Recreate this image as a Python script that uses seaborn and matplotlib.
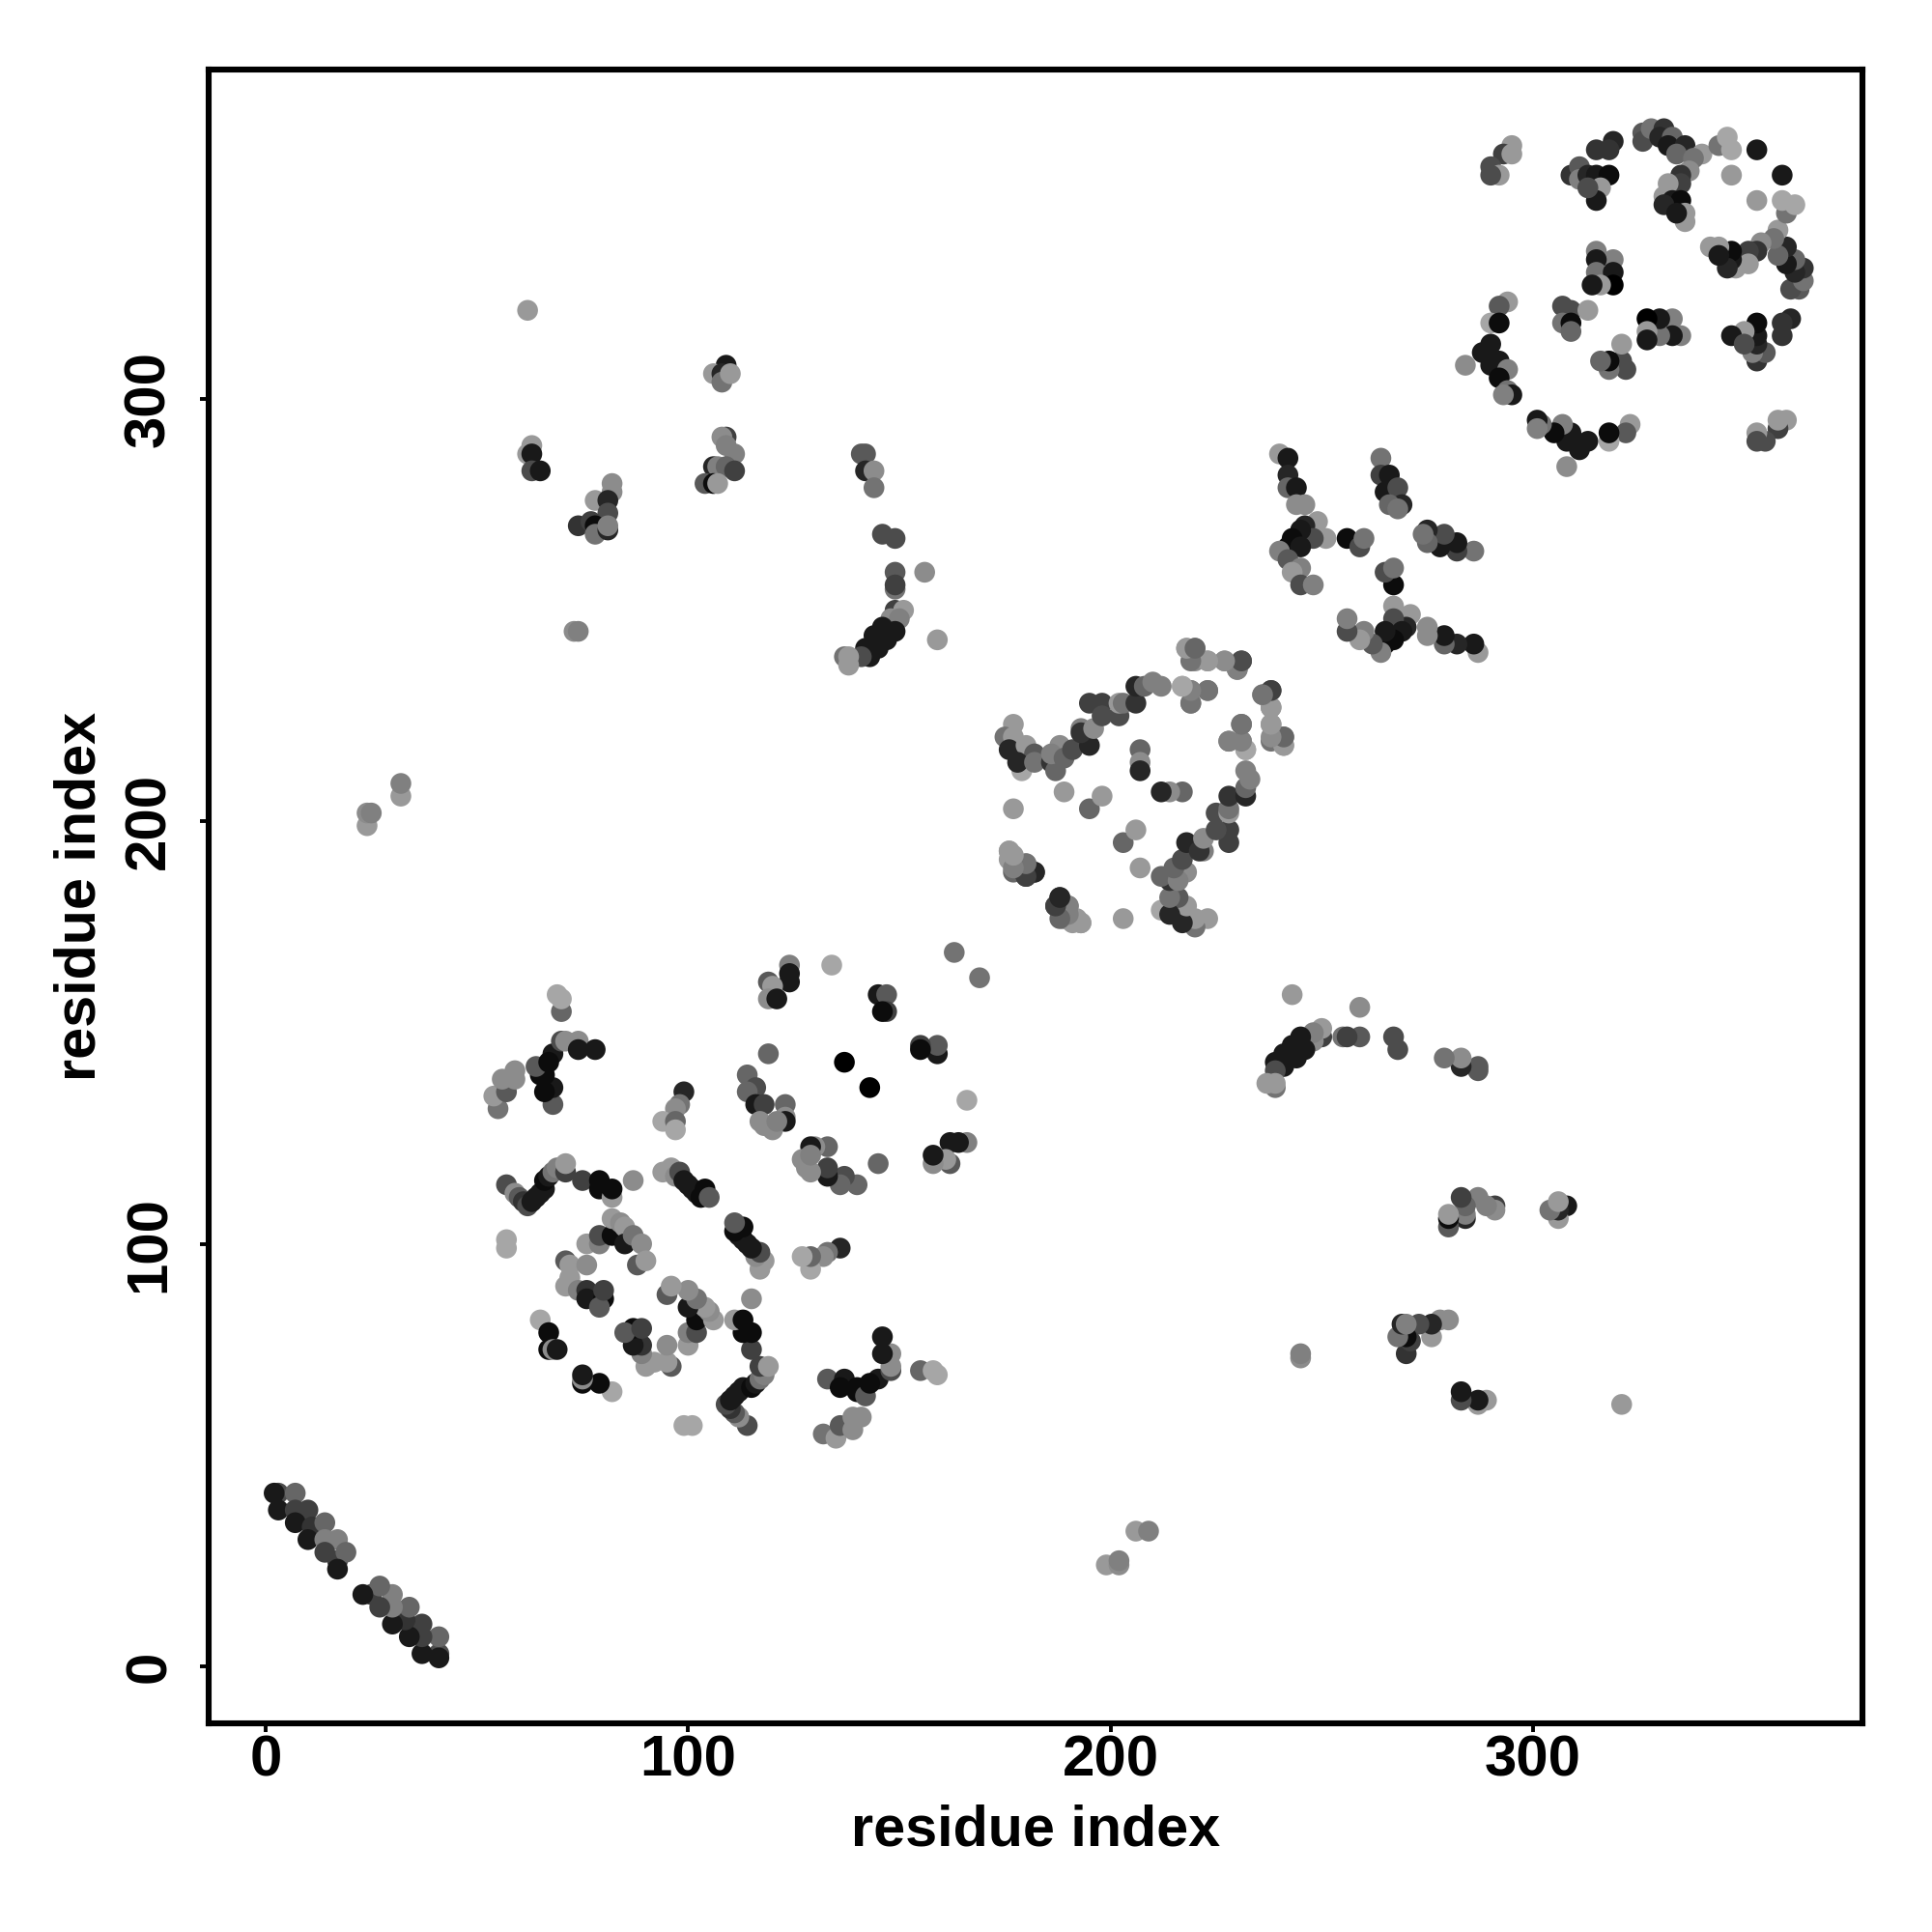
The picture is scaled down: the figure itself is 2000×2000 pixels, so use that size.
import pandas as pd
import matplotlib
matplotlib.use('Agg')
import matplotlib.pyplot as plt
import seaborn as sns

# Contacts as (i, j, grey level), upper triangle only.
# The map is symmetric, so the mirrored half is added below.
strand_start = [(3, 41, .3), (2, 41, .1), (7, 41, .4), (3, 37, .1), (7, 37, .25), (10, 37, .25),
                (7, 34, .1), (11, 33, .2), (14, 34, .4), (10, 30, .1), (14, 30, .5), (17, 30, .5),
                (14, 27, .25), (17, 25, .25), (19, 27, .4), (17, 23, .1)]

block_a_left = [(57, 114, .3), (59, 112, .55), (60, 111, .35), (61, 110, .2), (62, 109, .3), (63, 110, .1),
                (64, 111, .1), (65, 112, .1), (66, 113, .1), (66, 115, .05), (67, 116, .1), (68, 117, .45),
                (69, 118, .5), (71, 117, .25), (71, 119, .6), (75, 115, .25), (79, 115, .05), (79, 113, .05),
                (82, 111, .6), (82, 113, .05), (87, 115, .55)]

block_a_turn = [(94, 117, .6), (96, 118, .6), (97, 116, .55), (98, 117, .3), (99, 115, .1), (100, 114, .1),
                (101, 113, .1), (102, 112, .1), (103, 111, .05), (104, 113, .05), (105, 111, .35)]

block_a_inner = [(76, 100, .6), (79, 100, .5), (79, 102, .3), (82, 102, .05), (82, 106, .6), (84, 105, .55),
                 (85, 104, .6), (85, 100, .1), (87, 102, .45), (89, 100, .55), (88, 95, .35), (90, 96, .6),
                 (57, 99, .65), (57, 101, .65), (71, 96, .35), (72, 95, .6), (76, 95, .55), (72, 92, .6),
                 (71, 90, .6), (74, 89, .5), (76, 89, .2), (76, 87, .1), (80, 87, .05), (79, 85, .35),
                 (80, 89, .25), (65, 82, .65), (67, 79, .05), (67, 75, .05), (68, 75, .55), (69, 75, .1)]

block_a_far = [(68, 133, .35), (68, 137, .1), (66, 136, .05), (65, 140, .05), (66, 140, .05), (64, 142, .35),
               (68, 145, .1), (67, 143, .05), (70, 148, .3), (71, 148, .55), (74, 148, .55), (74, 146, .1),
               (78, 146, .1), (55, 132, .45), (54, 135, .6), (57, 136, .35), (56, 139, .55), (59, 139, .55),
               (59, 141, .55), (70, 155, .4), (70, 158, .65), (69, 159, .65), (99, 136, .15), (98, 133, .45),
               (97, 132, .55), (94, 129, .65), (97, 129, .4), (97, 127, .65)]

block_b = [(114, 140, .4), (116, 137, .3), (114, 136, .4), (116, 133, .1), (118, 133, .25), (123, 133, .4),
           (123, 130, .55), (123, 129, .1), (117, 129, .55), (120, 127, .55), (118, 128, .55), (121, 129, .5),
           (119, 145, .4), (124, 166, .5), (124, 164, .1), (124, 162, .1), (119, 162, .35), (120, 161, .6),
           (119, 158, .55), (121, 158, .1), (134, 166, .65), (145, 159, .1), (147, 159, .35), (147, 155, .25),
           (146, 155, .05), (163, 169, .45), (137, 143, 0)]

block_c_upper = [(177, 223, .6), (175, 220, .45), (177, 220, .6), (176, 217, .15), (180, 218, .6), (182, 216, .35),
                 (179, 212, .65), (178, 214, .15), (182, 214, .45), (186, 214, .2), (187, 212, .4), (188, 218, .55),
                 (186, 216, .5), (189, 215, .4), (191, 217, .3), (193, 222, .5), (195, 218, .15), (193, 221, .2),
                 (196, 222, .55), (195, 228, .25), (198, 228, .25), (198, 225, .3), (202, 225, .3), (202, 228, .6),
                 (203, 228, .45), (206, 228, .2), (206, 232, .15), (208, 232, .4), (210, 233, .5), (212, 232, .5)]

block_c_top = [(218, 241, .6), (220, 241, .4), (220, 238, .55), (223, 238, .6), (227, 238, .6), (231, 238, .25),
               (230, 236, .45), (217, 232, .65), (219, 231, .5), (223, 231, .45), (219, 228, .5), (236, 230, .5),
               (238, 231, .3), (238, 227, .55), (238, 223, .6), (238, 219, .45), (241, 218, .6), (241, 220, .4),
               (231, 223, .45), (228, 219, .45), (231, 219, .5), (232, 217, .65)]

block_c_inner = [(207, 217, .4), (207, 214, .55), (207, 212, .15), (189, 207, .6), (195, 203, .4), (198, 206, .6),
                 (177, 203, .6), (176, 193, .6), (176, 191, .6), (178, 190, .5), (180, 190, .5), (177, 188, .4),
                 (180, 187, .25), (182, 188, .15), (188, 182, .15), (187, 180, .25), (190, 180, .45), (189, 177, .5),
                 (192, 177, .6), (193, 176, .6)]

block_d = [(240, 287, .6), (242, 286, .1), (242, 282, .15), (242, 279, .4), (244, 279, .1), (244, 275, .55),
           (246, 275, .55), (249, 271, .6), (246, 270, .15), (251, 267, .6), (248, 267, .3), (245, 269, .1),
           (243, 267, .05), (242, 265, .05), (240, 264, .5), (245, 265, .1), (242, 262, .35), (245, 260, .5),
           (243, 259, .6), (245, 256, .3), (248, 256, .5), (256, 267, .05), (259, 265, .3), (260, 267, .45),
           (264, 286, .45), (264, 282, .25), (266, 282, .1), (265, 278, .1), (268, 279, .3), (269, 275, .15),
           (266, 275, .4), (268, 274, .45)]

block_e_corner = [(295, 360, .6), (293, 358, .25), (295, 358, .6), (290, 355, .3), (292, 353, .6), (290, 353, .3),
                  (319, 361, .15), (315, 359, .2), (318, 359, .2), (309, 353, .2), (311, 355, .35), (311, 352, .5),
                  (313, 353, .15), (315, 353, .1), (318, 353, .05), (316, 350, .6), (315, 347, .1), (313, 350, .3)]

block_e_top = [(326, 363, .35), (326, 361, .3), (328, 364, .45), (331, 364, .2), (330, 362, .15), (333, 362, .4),
               (332, 360, .1), (336, 360, .15), (334, 358, .4), (340, 358, .6), (338, 357, .45), (337, 354, .55),
               (335, 353, .2), (335, 351, .25), (332, 351, .6), (331, 348, .6), (333, 347, .1), (335, 347, .05),
               (336, 344, .6), (336, 342, .6), (331, 346, .15), (334, 344, .1), (344, 360, .45), (346, 362, .65),
               (347, 359, .65), (353, 359, .1), (347, 353, .6)]

block_e_inner = [(315, 335, .5), (319, 333, .5), (315, 333, .1), (315, 330, .45), (319, 330, .1), (319, 327, 0),
                 (316, 327, .6), (314, 327, .1), (294, 323, .6), (292, 322, .35), (290, 318, .65), (292, 318, .05),
                 (307, 322, .3), (309, 321, .3), (313, 321, .6), (307, 318, .45), (309, 318, .05), (309, 316, .4),
                 (290, 313, .1), (288, 311, .1), (290, 308, .1), (284, 308, .55), (292, 309, .1), (294, 307, .5),
                 (292, 305, .05), (294, 302, .45), (295, 301, .1), (293, 301, .5)]

long_range = [(62, 321, .6), (109, 308, .1), (106, 306, .6), (108, 306, .15), (108, 304, .45), (110, 306, .6),
              (63, 289, .6), (62, 287, .6), (63, 287, .1), (63, 283, .3), (65, 283, .1),
              (82, 280, .55), (82, 278, .55), (78, 276, .6), (81, 276, .15), (81, 273, .3), (74, 270, .2),
              (77, 271, .25), (78, 270, .05), (78, 268, .45), (81, 269, .15), (81, 270, .5),
              (109, 291, .25), (108, 291, .55), (109, 289, .5), (111, 287, .5), (106, 284, .15), (107, 284, .5),
              (109, 284, .4), (111, 283, .25), (104, 280, .35), (106, 280, .05), (107, 280, .6),
              (141, 287, .35), (142, 287, .35), (142, 283, .15), (144, 283, .55), (144, 279, .45),
              (146, 268, .3), (149, 267, .3), (149, 259, .35), (156, 259, .55), (149, 255, .45), (149, 256, .25),
              (149, 250, .25), (151, 250, .6), (148, 248, .55), (150, 248, .5), (149, 245, .1), (146, 246, .1),
              (147, 243, .1), (144, 244, .1), (145, 241, .1), (142, 241, .1), (143, 239, .1), (141, 239, .3),
              (137, 239, .45), (138, 239, .6), (138, 237, .6), (159, 243, .6),
              (73, 245, .55), (74, 245, .5), (24, 199, .6), (24, 202, .55), (25, 202, .5), (32, 206, .6), (32, 209, .5)]

tick_values = [0, 100, 200, 300]
axis_title = 'residue index'

rows = (strand_start + block_a_left + block_a_turn + block_a_inner + block_a_far + block_b
        + block_c_upper + block_c_top + block_c_inner + block_d
        + block_e_corner + block_e_top + block_e_inner + long_range)
upper = pd.DataFrame(rows, columns=['i', 'j', 'grey'])
lower = upper.rename(columns={'i': 'j', 'j': 'i'})
df = pd.concat([upper, lower], ignore_index=True)

sns.set_style('white')
plt.rcParams['font.family'] = ['Liberation Sans', 'DejaVu Sans']

fig = plt.figure(figsize=(10, 10), dpi=200)
ax = fig.add_axes([216 / 2000, 216 / 2000, 1712 / 2000, 1712 / 2000])

sns.scatterplot(data=df, x='i', y='j', hue='grey', palette='gray', hue_norm=(0, 1),
                s=60, linewidth=0, legend=False, ax=ax)

ax.set_xlim(-13.5, 378)
ax.set_ylim(-13.5, 378)
ax.set_xticks(tick_values)
ax.set_yticks(tick_values)
ax.set_xticklabels(tick_values, fontsize=21.6, fontweight='bold', color='black')
ax.set_yticklabels(tick_values, fontsize=21.6, fontweight='bold', color='black', rotation=90, va='center')
ax.tick_params(axis='both', length=3.2, width=1.4, color='black', bottom=True, left=True)
ax.tick_params(axis='x', pad=0.8)
ax.tick_params(axis='y', pad=8.8)
ax.set_xlabel(axis_title, fontsize=21.4, fontweight='bold', color='black', labelpad=6.2)
ax.set_ylabel(axis_title, fontsize=21.4, fontweight='bold', color='black', labelpad=6.3)

for spine in ax.spines.values():
    spine.set_visible(True)
    spine.set_color('black')
    spine.set_linewidth(2.2)

fig.savefig('out.png', dpi=200, facecolor='white')
